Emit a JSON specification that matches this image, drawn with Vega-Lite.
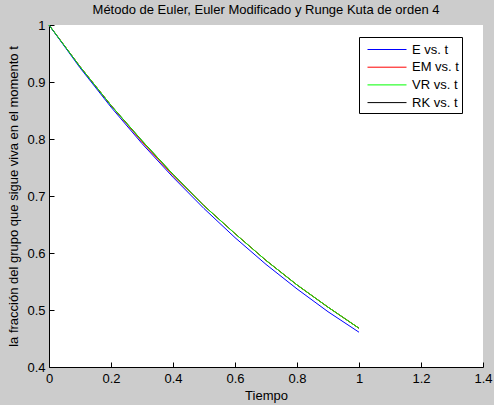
{
  "$schema": "https://vega.github.io/schema/vega-lite/v6.json",
  "description": "Metodo de Euler, Euler Modificado y Runge Kuta de orden 4",
  "autosize": {"type": "none"},
  "padding": {"left": 49, "top": 25, "right": 11, "bottom": 38},
  "width": 434,
  "height": 342,
  "background": "#cccccc",
  "title": {
    "text": "Método de Euler, Euler Modificado y Runge Kuta de orden 4",
    "font": "Liberation Sans",
    "fontSize": 13,
    "fontWeight": "normal",
    "color": "black",
    "anchor": "middle",
    "offset": 2
  },
  "config": {
    "view": {"fill": "white", "stroke": null},
    "axis": {
      "domainColor": "black",
      "tickColor": "black",
      "tickSize": -5,
      "grid": false,
      "labelFont": "Liberation Sans",
      "labelFontSize": 13,
      "labelColor": "black",
      "titleFont": "Liberation Sans",
      "titleFontSize": 13,
      "titleFontWeight": "normal",
      "titleColor": "black"
    }
  },
  "data": {
    "values": [
      {"t": 0, "y": 1, "s": "RK vs. t"},
      {"t": 0.1, "y": 0.927, "s": "RK vs. t"},
      {"t": 0.2, "y": 0.859, "s": "RK vs. t"},
      {"t": 0.3, "y": 0.797, "s": "RK vs. t"},
      {"t": 0.4, "y": 0.738, "s": "RK vs. t"},
      {"t": 0.5, "y": 0.683, "s": "RK vs. t"},
      {"t": 0.6, "y": 0.634, "s": "RK vs. t"},
      {"t": 0.7, "y": 0.587, "s": "RK vs. t"},
      {"t": 0.8, "y": 0.544, "s": "RK vs. t"},
      {"t": 0.9, "y": 0.505, "s": "RK vs. t"},
      {"t": 1.0, "y": 0.468, "s": "RK vs. t"},
      {"t": 0, "y": 1, "s": "EM vs. t"},
      {"t": 0.1, "y": 0.927, "s": "EM vs. t"},
      {"t": 0.2, "y": 0.859, "s": "EM vs. t"},
      {"t": 0.3, "y": 0.795, "s": "EM vs. t"},
      {"t": 0.4, "y": 0.736, "s": "EM vs. t"},
      {"t": 0.5, "y": 0.683, "s": "EM vs. t"},
      {"t": 0.6, "y": 0.634, "s": "EM vs. t"},
      {"t": 0.7, "y": 0.587, "s": "EM vs. t"},
      {"t": 0.8, "y": 0.544, "s": "EM vs. t"},
      {"t": 0.9, "y": 0.505, "s": "EM vs. t"},
      {"t": 1.0, "y": 0.468, "s": "EM vs. t"},
      {"t": 0, "y": 1, "s": "E vs. t"},
      {"t": 0.1, "y": 0.925, "s": "E vs. t"},
      {"t": 0.2, "y": 0.856, "s": "E vs. t"},
      {"t": 0.3, "y": 0.792, "s": "E vs. t"},
      {"t": 0.4, "y": 0.733, "s": "E vs. t"},
      {"t": 0.5, "y": 0.678, "s": "E vs. t"},
      {"t": 0.6, "y": 0.627, "s": "E vs. t"},
      {"t": 0.7, "y": 0.580, "s": "E vs. t"},
      {"t": 0.8, "y": 0.537, "s": "E vs. t"},
      {"t": 0.9, "y": 0.497, "s": "E vs. t"},
      {"t": 1.0, "y": 0.461, "s": "E vs. t"},
      {"t": 0, "y": 1, "s": "VR vs. t"},
      {"t": 0.1, "y": 0.927, "s": "VR vs. t"},
      {"t": 0.2, "y": 0.859, "s": "VR vs. t"},
      {"t": 0.3, "y": 0.797, "s": "VR vs. t"},
      {"t": 0.4, "y": 0.738, "s": "VR vs. t"},
      {"t": 0.5, "y": 0.683, "s": "VR vs. t"},
      {"t": 0.6, "y": 0.634, "s": "VR vs. t"},
      {"t": 0.7, "y": 0.587, "s": "VR vs. t"},
      {"t": 0.8, "y": 0.544, "s": "VR vs. t"},
      {"t": 0.9, "y": 0.505, "s": "VR vs. t"},
      {"t": 1.0, "y": 0.468, "s": "VR vs. t"}
    ]
  },
  "encoding": {
    "x": {
      "field": "t",
      "type": "quantitative",
      "title": "Tiempo",
      "scale": {"domain": [0, 1.4], "nice": false},
      "axis": {"values": [0, 0.2, 0.4, 0.6, 0.8, 1, 1.2, 1.4], "format": ".1~f", "labelPadding": 10, "titlePadding": 4, "labelFlush": false}
    },
    "y": {
      "field": "y",
      "type": "quantitative",
      "title": "la fracción del grupo que sigue viva en el momento t",
      "scale": {"domain": [0.4, 1], "nice": false, "zero": false},
      "axis": {"values": [0.4, 0.5, 0.6, 0.7, 0.8, 0.9, 1], "format": ".1~f", "labelPadding": 9, "titlePadding": 6, "labelFlush": false}
    },
    "color": {
      "field": "s",
      "type": "nominal",
      "scale": {
        "domain": ["E vs. t", "EM vs. t", "VR vs. t", "RK vs. t"],
        "range": ["#0000ff", "#ff0000", "#00ff00", "#000000"]
      },
      "legend": {
        "title": null,
        "orient": "none",
        "legendX": 310,
        "legendY": 12,
        "symbolType": "M-0.444,0H3.889",
        "symbolSize": 324,
        "symbolStrokeWidth": 1,
        "symbolOpacity": 1,
        "labelFont": "Liberation Sans",
        "labelFontSize": 13,
        "labelColor": "black",
        "fillColor": "white",
        "strokeColor": "black",
        "padding": 3,
        "rowPadding": 0.7,
        "labelOffset": 31
      }
    }
  },
  "layer": [
    {"transform": [{"filter": "datum.s === 'RK vs. t'"}], "mark": {"type": "line", "strokeWidth": 1}},
    {"transform": [{"filter": "datum.s === 'EM vs. t'"}], "mark": {"type": "line", "strokeWidth": 1}},
    {"transform": [{"filter": "datum.s === 'E vs. t'"}], "mark": {"type": "line", "strokeWidth": 1}},
    {"transform": [{"filter": "datum.s === 'VR vs. t'"}], "mark": {"type": "line", "strokeWidth": 1}}
  ]
}
